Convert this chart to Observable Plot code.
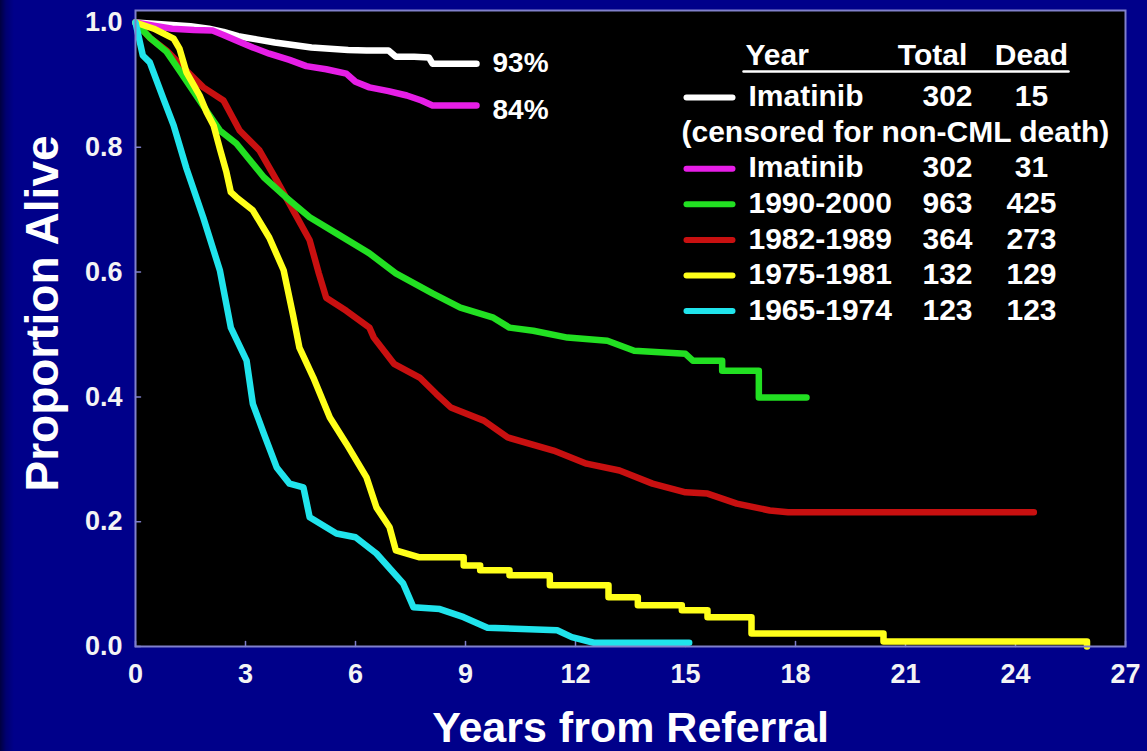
<!DOCTYPE html>
<html>
<head>
<meta charset="utf-8">
<script src="https://cdn.jsdelivr.net/npm/d3@7"></script>
<script src="https://cdn.jsdelivr.net/npm/@observablehq/plot@0.6"></script>
<style>
html, body { margin: 0; padding: 0; }
body {
  width: 1147px; height: 751px; overflow: hidden;
  background: linear-gradient(90deg, #000040 0px, #000070 6px, #00008a 14px, #00008a 100%);
}
#chart svg { display: block; }
</style>
</head>
<body>
<div id="chart"></div>
<script>
// ---- Data ----
const xTicks = [0, 3, 6, 9, 12, 15, 18, 21, 24, 27];
const yTicks = [0, 0.2, 0.4, 0.6, 0.8, 1.0];

// Imatinib (censored for non-CML death)
const imatCensYears = [0, 0.5, 1.0, 1.5, 2.0, 2.4, 2.8, 3.3, 3.8, 4.3, 4.8, 5.3, 5.8, 6.3, 6.9, 7.1, 7.6, 8.0, 8.1, 9.3];
const imatCensSurv  = [1.0, 0.998, 0.996, 0.994, 0.99, 0.985, 0.978, 0.973, 0.968, 0.964, 0.96, 0.958, 0.956, 0.955, 0.955, 0.945, 0.945, 0.944, 0.934, 0.934];

// Imatinib
const imatYears = [0, 0.5, 1.0, 1.6, 2.1, 2.4, 2.75, 3.2, 3.65, 4.2, 4.66, 5.2, 5.75, 6.0, 6.38, 6.9, 7.4, 7.8, 8.1, 9.3];
const imatSurv  = [1.0, 0.995, 0.99, 0.988, 0.987, 0.98, 0.971, 0.96, 0.95, 0.94, 0.93, 0.925, 0.918, 0.905, 0.896, 0.89, 0.883, 0.875, 0.867, 0.867];

// 1990-2000
const y1990Years = [0, 0.4, 0.85, 1.0, 1.2, 1.6, 2.0, 2.3, 2.75, 3.5, 4.1, 4.75, 5.48, 6.38, 7.1, 8.1, 8.86, 9.76, 10.2, 10.85, 11.78, 12.87, 13.6, 15.0, 15.2, 16.0, 16.0, 17.0, 17.0, 18.3];
const y1990Surv  = [1.0, 0.975, 0.953, 0.94, 0.923, 0.888, 0.853, 0.827, 0.806, 0.752, 0.72, 0.688, 0.662, 0.63, 0.598, 0.566, 0.543, 0.527, 0.511, 0.506, 0.495, 0.49, 0.474, 0.469, 0.458, 0.458, 0.442, 0.442, 0.399, 0.399];

// 1982-1989
const y1982Years = [0, 0.4, 0.85, 1.3, 1.85, 2.4, 2.84, 3.38, 3.85, 4.3, 4.75, 5.0, 5.2, 5.75, 6.38, 6.5, 7.05, 7.75, 8.2, 8.6, 9.5, 10.15, 11.4, 12.3, 13.2, 14.1, 15.0, 15.6, 16.4, 17.3, 17.8, 24.5];
const y1982Surv  = [1.0, 0.975, 0.955, 0.928, 0.896, 0.875, 0.827, 0.795, 0.747, 0.699, 0.651, 0.598, 0.559, 0.538, 0.511, 0.495, 0.453, 0.431, 0.405, 0.383, 0.362, 0.335, 0.314, 0.293, 0.282, 0.261, 0.247, 0.245, 0.229, 0.218, 0.215, 0.215];

// 1975-1981
const y1975Years = [0, 0.5, 1.04, 1.2, 1.39, 1.75, 1.94, 2.13, 2.3, 2.48, 2.6, 2.75, 3.2, 3.65, 4.04, 4.3, 4.47, 4.85, 5.3, 5.75, 6.3, 6.57, 6.93, 7.1, 7.4, 7.75, 8.95, 8.95, 9.4, 9.4, 10.2, 10.2, 11.3, 11.3, 12.9, 12.9, 13.7, 13.7, 14.9, 14.9, 15.6, 15.6, 16.8, 16.8, 20.4, 20.4, 25.95, 25.95];
const y1975Surv  = [1.0, 0.99, 0.974, 0.958, 0.92, 0.883, 0.856, 0.835, 0.798, 0.76, 0.728, 0.72, 0.699, 0.655, 0.603, 0.53, 0.479, 0.431, 0.367, 0.325, 0.271, 0.223, 0.191, 0.154, 0.149, 0.143, 0.143, 0.13, 0.13, 0.122, 0.122, 0.114, 0.114, 0.098, 0.098, 0.079, 0.079, 0.066, 0.066, 0.058, 0.058, 0.047, 0.047, 0.021, 0.021, 0.008, 0.008, 0.0];

// 1965-1974
const y1965Years = [0, 0.2, 0.39, 0.76, 1.04, 1.39, 1.85, 2.3, 2.6, 3.03, 3.2, 3.5, 3.85, 4.2, 4.58, 4.75, 5.48, 6.0, 6.57, 7.3, 7.58, 8.3, 8.95, 9.6, 11.5, 11.9, 12.5, 15.1];
const y1965Surv  = [1.0, 0.947, 0.936, 0.878, 0.835, 0.766, 0.687, 0.603, 0.511, 0.458, 0.389, 0.341, 0.287, 0.261, 0.255, 0.207, 0.181, 0.175, 0.149, 0.101, 0.063, 0.06, 0.047, 0.03, 0.026, 0.015, 0.006, 0.006];

// Legend table
const legendHeader = ["Year", "Total", "Dead"];
const legendYear  = ["Imatinib", "Imatinib", "1990-2000", "1982-1989", "1975-1981", "1965-1974"];
const legendTotal = ["302", "302", "963", "364", "132", "123"];
const legendDead  = ["15", "31", "425", "273", "129", "123"];
const legendNote  = "(censored for non-CML death)";
const endLabels   = ["93%", "84%"];

const colors = ["#ffffff", "#e61ee6", "#22e022", "#c81010", "#ffff1a", "#20e4ec"];

// ---- Build tables ----
const seriesDefs = [
  [imatCensYears, imatCensSurv],
  [imatYears, imatSurv],
  [y1990Years, y1990Surv],
  [y1982Years, y1982Surv],
  [y1975Years, y1975Surv],
  [y1965Years, y1965Surv]
];
const series = seriesDefs.map(([xs, ys], i) => xs.map((t, j) => ({t, s: ys[j], k: i})));

// drawing order: white, magenta, red, green, yellow, cyan
const drawOrder = [0, 1, 3, 2, 4, 5];

// ---- Layout constants (pixels) ----
const font = "'Liberation Sans', Arial, Helvetica, sans-serif";
const frameLeft = 135, frameTop = 10;
const rowY = r => 96 + 35.6 * r - frameTop;       // row centre relative to frame top
const legendRowIndex = [0, 2, 3, 4, 5, 6];
const gridStroke = "#8080cc";
const legendFont = 30;
// plain straight segment shape for vectors (no arrowhead)
const segment = {draw(context, l) { context.moveTo(0, 0); context.lineTo(0, -l); }};

const legendMarks = [];
const txt = (s, dx, dy, anchor) => Plot.text([s], {frameAnchor: "top-left", text: d => d, dx, dy, textAnchor: anchor, lineAnchor: "middle", fontSize: legendFont, fontWeight: "bold", fill: "white"});
// header
legendMarks.push(txt(legendHeader[0], 745 - frameLeft, 55 - frameTop, "start"));
legendMarks.push(txt(legendHeader[1], 932 - frameLeft, 55 - frameTop, "middle"));
legendMarks.push(txt(legendHeader[2], 1031 - frameLeft, 55 - frameTop, "middle"));
legendMarks.push(Plot.vector([0], {frameAnchor: "top-left", dx: 743 - frameLeft, dy: 71 - frameTop, rotate: 90, length: 325, anchor: "start", shape: segment, stroke: "white", strokeWidth: 2.5}));
// note row
legendMarks.push(txt(legendNote, 681 - frameLeft, rowY(1), "start"));
legendYear.forEach((name, i) => {
  const r = legendRowIndex[i];
  legendMarks.push(Plot.vector([0], {frameAnchor: "top-left", dx: 686 - frameLeft, dy: rowY(r) + 1, rotate: 90, length: 46, anchor: "start", shape: segment, stroke: colors[i], strokeWidth: 6, strokeLinecap: "round"}));
  legendMarks.push(txt(name, 748 - frameLeft, rowY(r), "start"));
  legendMarks.push(txt(legendTotal[i], 947 - frameLeft, rowY(r), "middle"));
  legendMarks.push(txt(legendDead[i], 1031 - frameLeft, rowY(r), "middle"));
});

const endLabelData = [0, 1].map(i => ({t: series[i].at(-1).t, s: series[i].at(-1).s, label: endLabels[i]}));

const chart = Plot.plot({
  width: 1147,
  height: 751,
  marginLeft: 135,
  marginRight: 22,
  marginTop: 10,
  marginBottom: 105,
  x: {domain: [0, 27]},
  y: {domain: [0, 1.0192]},
  style: {background: "transparent", color: "white", fontFamily: font, fontWeight: "bold", overflow: "visible"},
  marks: [
    Plot.frame({fill: "black", stroke: null}),
    Plot.axisX({ticks: xTicks, tickSize: 0, tickPadding: 17, fontSize: 27, fontWeight: "bold", fill: "#f4f4f4", label: null, tickFormat: d => String(d)}),
    Plot.axisY({ticks: yTicks, tickSize: 0, tickPadding: 13, fontSize: 27, fontWeight: "bold", fill: "#f4f4f4", label: null, tickFormat: d3.format(".1f")}),
    Plot.vector(xTicks, {x: d => d, y: 0, rotate: 0, length: 5, anchor: "start", shape: segment, stroke: gridStroke, strokeWidth: 1.5}),
    Plot.vector(yTicks, {x: 0, y: d => d, rotate: 90, length: 5, anchor: "start", shape: segment, stroke: gridStroke, strokeWidth: 1.5}),
    ...drawOrder.map(i => Plot.line(series[i], {x: "t", y: "s", stroke: colors[i], strokeWidth: 6.5, strokeLinejoin: "round", strokeLinecap: "round"})),
    Plot.text([endLabelData[0]], {x: "t", y: "s", text: "label", dx: 16, dy: -1, textAnchor: "start", lineAnchor: "middle", fontSize: 28, fontWeight: "bold", fill: "white"}),
    Plot.text([endLabelData[1]], {x: "t", y: "s", text: "label", dx: 16, dy: 5, textAnchor: "start", lineAnchor: "middle", fontSize: 28, fontWeight: "bold", fill: "white"}),
    ...legendMarks,
    Plot.text(["Proportion Alive"], {frameAnchor: "left", text: d => d, rotate: -90, dx: -92, dy: -15, textAnchor: "middle", lineAnchor: "middle", fontSize: 46, fontWeight: "bold", fill: "white"}),
    Plot.text(["Years from Referral"], {frameAnchor: "bottom", text: d => d, dx: 0, dy: 82, textAnchor: "middle", lineAnchor: "middle", fontSize: 43, fontWeight: "bold", fill: "white"}),
    Plot.frame({stroke: gridStroke, strokeWidth: 2})
  ]
});
document.getElementById("chart").appendChild(chart);
</script>
</body>
</html>
